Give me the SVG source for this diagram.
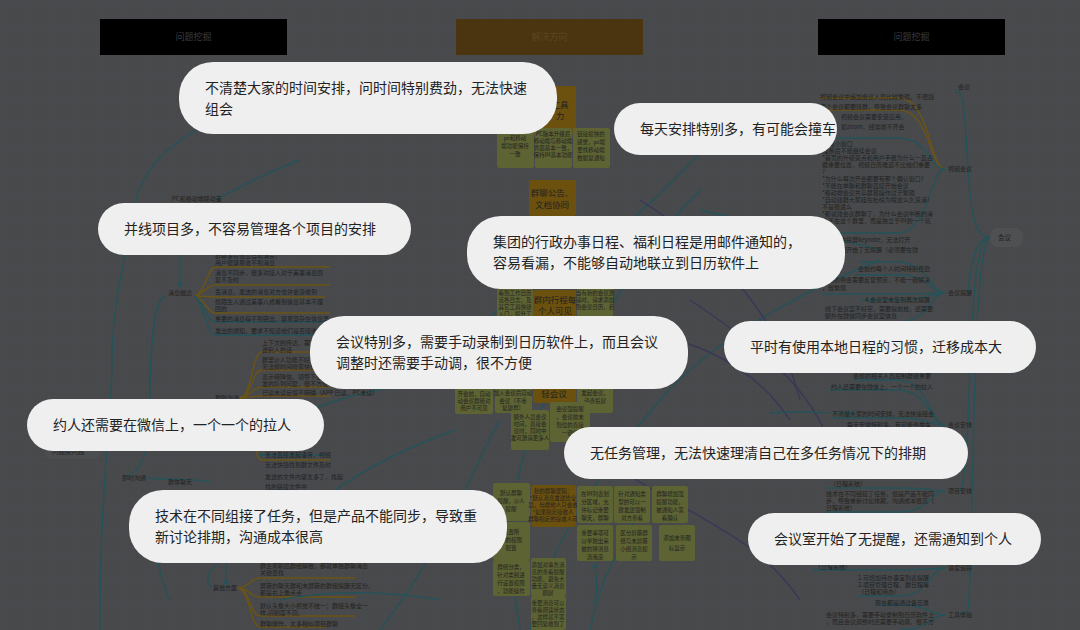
<svg xmlns="http://www.w3.org/2000/svg" width="1080" height="630" viewBox="0 0 1080 630">
<defs>
<pattern id="grid" width="6" height="6" patternUnits="userSpaceOnUse"><path d="M6 0H0V6" fill="none" stroke="#4b4d4f" stroke-width="0.6"/></pattern>
<marker id="ah" viewBox="0 0 10 10" refX="5" refY="5" markerWidth="4" markerHeight="4" orient="auto"><path d="M0 0L10 5L0 10z" fill="#24535a"/></marker>
<style>
.bg{fill:#47494b}
.t{font-family:"Noto Sans CJK SC","Noto Sans",sans-serif;font-size:6px;fill:#222}
.tl{font-family:"Noto Sans CJK SC","Noto Sans",sans-serif;font-size:6.5px;fill:#222}
.hd{font-family:"Noto Sans CJK SC",sans-serif;font-size:9px;text-anchor:middle}
.bt{font-family:"Noto Sans CJK SC","Noto Sans",sans-serif;font-size:14px;fill:#222}
.bub{fill:#efefef}
.c{fill:none;stroke:#24535a;stroke-width:1.4}
.g{fill:none;stroke:#6b5414;stroke-width:1.4}
.p{fill:none;stroke:#3b3757;stroke-width:1.4}
.ol{fill:#5d6332}
.or{fill:#6c500e}
.nt{font-family:"Noto Sans CJK SC",sans-serif;font-size:5.5px;fill:#222;text-anchor:middle}
.nb{font-family:"Noto Sans CJK SC",sans-serif;font-size:8.5px;fill:#222;text-anchor:middle}
</style>
</defs>
<rect class="bg" width="1080" height="630"/>
<rect fill="url(#grid)" width="1080" height="630"/>

<g id="headers">
<g id="h1"><rect x="100" y="19" width="187" height="36" fill="#000"/><text class="hd" x="193.5" y="40" fill="#3c3c3c">问题挖掘</text></g>
<g id="h2"><rect x="456" y="19" width="187" height="36" fill="#4a3510"/><text class="hd" x="549.5" y="40" fill="#5a4520">解决方向</text></g>
<g id="h3"><rect x="818" y="19" width="187" height="36" fill="#000"/><text class="hd" x="911.5" y="40" fill="#3c3c3c">问题挖掘</text></g>
</g>

<g id="connectors">
<path class="c" d="M200 128C160 150 140 175 135 205S112 300 112 360 100 480 100 630"/>
<path class="c" d="M300 160C260 175 235 190 215 200"/>
<path class="c" d="M180 255V286" marker-end="url(#ah)"/>
<path class="c" d="M165 296C155 300 150 340 150 400S140 470 125 478"/>
<path class="c" d="M145 478C170 480 190 478 210 482"/>
<path class="c" d="M170 600C150 560 158 520 160 490"/>
<path class="g" d="M195 296C205 292 208 268 215 267H330"/>
<path class="g" d="M195 296C205 292 208 285 215 285H330"/>
<path class="g" d="M195 296C205 296 208 297 215 297H325"/>
<path class="g" d="M195 296C205 300 208 313 215 313H330"/>
<path class="c" d="M195 296C205 305 208 322 215 322H325"/>
<path class="c" d="M195 296C205 310 208 335 215 335H325"/>
<path class="g" d="M240 398C252 396 252 352 262 352H330"/>
<path class="g" d="M240 398C252 396 252 370 262 370H330"/>
<path class="g" d="M240 398C252 396 252 387 262 387H330"/>
<path class="g" d="M240 398C252 398 252 396 262 396H330"/>
<path class="g" d="M240 398C252 400 252 460 262 460H330"/>
<path class="c" d="M262 455H325" marker-start="url(#ah)"/>
<path class="g" d="M237 588C250 588 250 578 260 578H355"/>
<path class="g" d="M237 588C250 588 250 597 260 597H355"/>
<path class="g" d="M237 588C250 588 250 616 260 616H355"/>
<path class="g" d="M237 588C250 588 250 627 260 627H325"/>
<path class="c" d="M213 588C205 585 205 570 222 560" />
<path class="c" d="M226 555V584" marker-end="url(#ah)"/>
<path class="c" d="M520 630C500 520 520 430 560 380S640 250 700 190"/>
<path class="c" d="M530 630C540 560 600 470 660 400S830 280 880 260"/>
<path class="c" d="M420 380C470 330 520 290 560 270S660 200 720 130"/>
<path class="c" d="M380 630C450 540 480 450 500 420"/>
<path class="c" d="M590 630C600 580 620 540 650 500"/>
<path class="c" d="M593 605C600 590 595 575 595 565" marker-end="url(#ah)"/>
<path class="p" d="M620 470C700 520 760 540 800 600"/>
<path class="p" d="M640 200C720 250 780 320 800 400"/>
<path class="p" d="M690 300C780 360 820 400 840 470"/>
<path class="p" d="M600 330C680 330 750 360 790 420"/>
<path class="c" d="M310 410C360 390 420 380 470 380"/>
<path class="c" d="M455 430C400 450 340 480 300 520"/>
<path class="c" d="M440 600C380 590 330 590 280 600"/>
<path class="c" d="M700 210C780 230 850 240 880 250"/>
<path class="c" d="M850 413H833" marker-start="url(#ah)"/>
<path class="c" d="M770 413C800 410 815 413 830 413"/>
<path class="c" d="M990 237C975 237 972 220 968 170 965 120 965 90 955 90"/>
<path class="c" d="M990 237C975 240 972 260 968 293"/>
<path class="c" d="M990 237C975 240 972 300 968 425 965 460 965 480 960 491"/>
<path class="c" d="M990 237C978 245 975 350 972 500S968 600 960 615"/>
<path class="g" d="M945 169C930 169 930 100 900 98H820"/>
<path class="g" d="M945 169C930 169 930 112 900 110H820"/>
<path class="c" d="M945 169C930 169 930 140 900 138H820"/>
<path class="c" d="M945 169C930 169 930 230 900 233H820"/>
<path class="c" d="M945 293C930 293 930 265 900 262H860"/>
<path class="c" d="M945 293C930 293 930 275 900 275H855"/>
<path class="c" d="M945 293C930 293 928 294 900 294H822"/>
<path class="c" d="M945 293C930 293 928 300 900 300H868" />
<path class="c" d="M945 293C930 293 930 320 900 322H825"/>
<path class="c" d="M945 425C930 425 930 382 900 380H853"/>
<path class="c" d="M945 425C930 425 930 392 900 390H830"/>
<path class="c" d="M945 425C930 425 930 418 900 418H832"/>
<path class="c" d="M945 491C930 491 930 488 900 488H828"/>
<path class="c" d="M945 491C930 491 930 512 900 512H826"/>
<path class="c" d="M945 568C930 568 930 570 900 570H812"/>
<path class="c" d="M945 568C930 568 930 596 900 596H858"/>
<path class="c" d="M945 615C930 615 930 605 900 605H875"/>
<path class="c" d="M945 615C930 615 930 630 900 630"/>
<path class="c" d="M870 300H860" marker-start="url(#ah)"/>
</g>

<g id="left-tree">
<text class="t" x="172" y="201">PC和移动端联动差</text>
<text class="t" x="168" y="295">消息触达</text>
<text class="t" x="215" y="258">群聊多对话息自动消失，</text>
<text class="t" x="215" y="265">用户很容易收不到消息</text>
<text class="t" x="215" y="275">消息不同步，很多对接人对于美事消息回</text>
<text class="t" x="215" y="282">复不及时</text>
<text class="t" x="215" y="294">丢消息，发送的消息对方也许会没收到</text>
<text class="t" x="215" y="304">找陌生人通过美事八成看到信息基本不理</text>
<text class="t" x="215" y="311">回的</text>
<text class="t" x="215" y="321">重要的消息得不到突出，容易混杂在信息里</text>
<text class="t" x="215" y="333">发出的通知，要求不知道他们是否接收并回</text>
<text class="t" x="262" y="345">上下文的传达，需要再</text>
<text class="t" x="262" y="352">送别人的话</text>
<text class="t" x="262" y="362">群里@人功能不好用，</text>
<text class="t" x="262" y="369">无法按时间搜索快速</text>
<text class="t" x="262" y="379">表示暗降信，领导下达通知</text>
<text class="t" x="262" y="386">发的队列问复，很不方便</text>
<text class="t" x="262" y="395">已读未读反馈不明确（APP 已读，PC未读）</text>
<text class="t" x="215" y="400">群聊沟通</text>
<text class="t" x="265" y="457">无法直接发起语音，视频</text>
<text class="t" x="265" y="467">无法快捷找到群文件及时</text>
<text class="t" x="265" y="479">发送的文件内容太多了，找起</text>
<text class="t" x="265" y="489">找的链接文件中</text>
<rect x="45" y="443" width="55" height="16" rx="5" fill="#4c4d4f"/>
<text class="tl" x="52" y="454">问题类问题</text>
<text class="t" x="122" y="480">即时沟通</text>
<text class="t" x="168" y="484">群体聊天</text>
<text class="t" x="213" y="590">其他方面</text>
<text class="t" x="260" y="568">群主离职后群组解散，那就单独群聊消息</text>
<text class="t" x="260" y="575">关键查找</text>
<text class="t" x="260" y="588">屏蔽的聊天群和未屏蔽的群组提醒无区分，</text>
<text class="t" x="260" y="595">都是右上角点点</text>
<text class="t" x="260" y="608">默认头像大小视觉不统一；群组头像全一</text>
<text class="t" x="260" y="615">样,识别度不高;</text>
<text class="t" x="260" y="626">群聊爆炸，太多相似项目群聊</text>
</g>

<g id="notes">
<rect class="or" x="529" y="86" width="47" height="48" rx="2"/>
<text class="nb" x="560" y="108">工具</text><text class="nb" x="560" y="119">力</text>
<rect class="ol" x="497" y="128" width="37" height="40" rx="2"/>
<text class="nt" x="515" y="140">pc和移动</text><text class="nt" x="515" y="148">端功能保持</text><text class="nt" x="515" y="156">一致</text>
<rect class="ol" x="535" y="128" width="37" height="40" rx="2"/>
<text class="nt" x="553" y="136">PC版本升级后</text><text class="nt" x="553" y="143">移动端与移动端</text><text class="nt" x="553" y="150">界面基本一致，</text><text class="nt" x="553" y="157">保持IM基本功能</text>
<rect class="ol" x="573" y="128" width="37" height="40" rx="2"/>
<text class="nt" x="591" y="136">链接提快的</text><text class="nt" x="591" y="144">感觉，pc端</text><text class="nt" x="591" y="152">要找移动端</text><text class="nt" x="591" y="160">数据复通知</text>
<rect class="or" x="529" y="180" width="47" height="36" rx="2"/>
<text class="nb" x="552" y="196">群聊公告、</text><text class="nb" x="552" y="208">文档协同</text>
<rect class="ol" x="497" y="288" width="36" height="30" rx="2"/>
<text class="nt" x="515" y="295">看到工作日历</text><text class="nt" x="515" y="302">该各日志，及</text><text class="nt" x="515" y="309">其它工具快捷</text><text class="nt" x="515" y="316">入口，提升工</text>
<rect class="or" x="533" y="290" width="43" height="28" rx="2"/>
<text class="nb" x="555" y="303">群内行程每</text><text class="nb" x="555" y="314">个人可见</text>
<rect class="ol" x="577" y="288" width="36" height="30" rx="2"/>
<text class="nt" x="595" y="295">当有新的会议邀</text><text class="nt" x="595" y="302">请时，请求添加</text><text class="nt" x="595" y="309">到会议日历，若</text>
<rect class="ol" x="455" y="388" width="38" height="26" rx="2"/>
<text class="nt" x="474" y="396">开会前，自动</text><text class="nt" x="474" y="403">动会议群组对</text><text class="nt" x="474" y="410">用户不可见</text>
<rect class="ol" x="495" y="385" width="37" height="28" rx="2"/>
<text class="nt" x="513" y="395">加入会议后自动</text><text class="nt" x="513" y="403">会议（不重</text><text class="nt" x="513" y="410">复建群）</text>
<rect class="or" x="533" y="385" width="43" height="18" rx="2"/>
<text class="nb" x="554" y="397">轻会议</text>
<rect class="ol" x="577" y="385" width="36" height="28" rx="2"/>
<text class="nt" x="595" y="395">发起会议，</text><text class="nt" x="595" y="403">请查投屏</text>
<rect class="ol" x="550" y="402" width="40" height="40" rx="2"/>
<text class="nt" x="570" y="411">会议强提醒</text><text class="nt" x="570" y="419">，会议前未</text><text class="nt" x="570" y="427">到位的直接</text><text class="nt" x="570" y="435">一键呼</text>
<rect class="ol" x="511" y="410" width="38" height="40" rx="2"/>
<text class="nt" x="530" y="419">额外人员会议</text><text class="nt" x="530" y="426">时间，直接会</text><text class="nt" x="530" y="433">议时，同时中</text><text class="nt" x="530" y="440">发可邀请更多人</text>
<rect class="ol" x="493" y="483" width="37" height="38" rx="2"/>
<text class="nt" x="511" y="495">默认群聊</text><text class="nt" x="511" y="503">提醒，@人</text><text class="nt" x="511" y="511">提醒</text>
<rect class="or" x="531" y="485" width="45" height="42" rx="3"/>
<text class="nt" x="553" y="493">新的群聊逻辑：</text><text class="nt" x="553" y="500">*默认消息发送给全</text><text class="nt" x="553" y="507">员，但群他人只会收</text><text class="nt" x="553" y="514">*如果指定接收人</text><text class="nt" x="553" y="521">群聊指定的接收人可</text>
<rect class="ol" x="577" y="486" width="36" height="37" rx="2"/>
<text class="nt" x="595" y="496">在IM列表划</text><text class="nt" x="595" y="504">分区域，允</text><text class="nt" x="595" y="512">许标记重要</text><text class="nt" x="595" y="520">聊天，群聊</text>
<rect class="ol" x="614" y="486" width="36" height="37" rx="2"/>
<text class="nt" x="632" y="496">针对通知类</text><text class="nt" x="632" y="504">型的可以一</text><text class="nt" x="632" y="512">键发送强制</text><text class="nt" x="632" y="520">对方查看</text>
<rect class="ol" x="652" y="486" width="36" height="37" rx="2"/>
<text class="nt" x="670" y="496">群聊增加强</text><text class="nt" x="670" y="504">提醒功能，</text><text class="nt" x="670" y="512">被通知人需</text><text class="nt" x="670" y="520">看确认</text>
<rect class="ol" x="493" y="522" width="37" height="38" rx="2"/>
<text class="nt" x="511" y="534">设置所</text><text class="nt" x="511" y="542">人的权限</text><text class="nt" x="511" y="550">配置</text>
<rect class="ol" x="577" y="525" width="36" height="36" rx="2"/>
<text class="nt" x="595" y="535">重要事项可</text><text class="nt" x="595" y="543">以单独出来</text><text class="nt" x="595" y="551">被的弹消息</text><text class="nt" x="595" y="559">流淹没</text>
<rect class="ol" x="616" y="525" width="36" height="36" rx="2"/>
<text class="nt" x="634" y="535">区分屏蔽群</text><text class="nt" x="634" y="543">组与未屏蔽</text><text class="nt" x="634" y="551">小组消息提</text><text class="nt" x="634" y="559">示</text>
<rect class="ol" x="659" y="525" width="36" height="36" rx="2"/>
<text class="nt" x="677" y="540">添加未查图</text><text class="nt" x="677" y="550">标显示</text>
<rect class="ol" x="493" y="560" width="37" height="36" rx="2"/>
<text class="nt" x="511" y="569">群组分类，</text><text class="nt" x="511" y="577">针对类别进</text><text class="nt" x="511" y="585">行设置权限</text><text class="nt" x="511" y="593">，功能操作</text>
<rect class="ol" x="531" y="558" width="35" height="38" rx="2"/>
<text class="nt" x="548" y="567">添加对事务消</text><text class="nt" x="548" y="574">息的查看提醒</text><text class="nt" x="548" y="581">功能，避免大</text><text class="nt" x="548" y="588">量无意义消息</text><text class="nt" x="548" y="595">刷屏</text>
<rect class="ol" x="531" y="596" width="35" height="34" rx="2"/>
<text class="nt" x="548" y="605">重要消息可以</text><text class="nt" x="548" y="612">查看阅读状态</text><text class="nt" x="548" y="619">，这样就不需</text><text class="nt" x="548" y="626">要回复收到了</text>
</g>

<g id="right-tree">
<rect x="990" y="228" width="33" height="19" rx="8" fill="#4e5052"/>
<text class="tl" x="998" y="240">会议</text>
<text class="t" x="958" y="89">会议</text>
<text class="t" x="948" y="171">视频会议</text>
<text class="t" x="948" y="295">会议提醒</text>
<text class="t" x="948" y="427">会议安排</text>
<text class="t" x="948" y="493">项目安排</text>
<text class="t" x="948" y="570">进度追踪</text>
<text class="t" x="948" y="617">工具体验</text>
<text class="t" x="820" y="99">视频会议中追加会议人员比较繁琐，不便捷</text>
<text class="t" x="820" y="109">每个会议都要建群，导致会议群聊太多</text>
<text class="t" x="841" y="119">视频会议需要安装应用，</text>
<text class="t" x="841" y="129">如zoom，经常收不开会</text>
<text class="t" x="820" y="146">*视频小窗口</text>
<text class="t" x="820" y="153">*挂断后不能继续会议</text>
<text class="t" x="822" y="160">*首页的升级亮点和用户手册为什么一直占</text>
<text class="t" x="822" y="167">据重要位置，视频日历难道不比他们重要</text>
<text class="t" x="822" y="174">?</text>
<text class="t" x="822" y="181">*为什么每次开会都要有那个确认窗口?</text>
<text class="t" x="822" y="188">*不能在单聊和群聊直接开始会议</text>
<text class="t" x="822" y="195">*移动端会议共享屏幕操作过于繁琐</text>
<text class="t" x="822" y="202">*自动建群大家挂在杜榜为啥这么久没消?</text>
<text class="t" x="822" y="209">不是很适么</text>
<text class="t" x="822" y="216">*都说建会议群聊了，为什么会议中断的消</text>
<text class="t" x="822" y="223">息不在这个群里，而是独立于IM的一个玩</text>
<text class="t" x="822" y="242">会议单独投屏keynote，无法打开</text>
<text class="t" x="822" y="252">会议时间开始了无提醒（必须要在微</text>
<text class="t" x="822" y="259">信通知）</text>
<text class="t" x="858" y="271">会前约每个人时间特别费劲</text>
<text class="t" x="822" y="282">固定的例会需要反复预定，不能一键解决</text>
<text class="t" x="822" y="290">，较繁琐</text>
<text class="t" x="865" y="302">4.会议室未签到再次提醒</text>
<text class="t" x="825" y="311">线下会议室不好定，需要提前抢，还需要</text>
<text class="t" x="825" y="318">额外在微信同步会议室信息</text>
<text class="t" x="853" y="378">会前的相关人员控制群组重要</text>
<text class="t" x="831" y="389">约人还需要在微信上，一个一个的拉人</text>
<text class="t" x="832" y="416">不清楚大家的时间安排，无法快速组会</text>
<text class="t" x="847" y="427">每天安排特别多，有可能会撞车</text>
<text class="t" x="830" y="486">（日程系统）</text>
<text class="t" x="826" y="496">技术在不同组接了任务，但是产品不能同</text>
<text class="t" x="826" y="503">步，导致重新讨论排期，沟通成本很高（</text>
<text class="t" x="826" y="510">日程系统）</text>
<text class="t" x="815" y="569">（日程系统）</text>
<text class="t" x="858" y="580">1.可增加待办事宜列表提醒</text>
<text class="t" x="858" y="587">2.项目管理日程，群日程等</text>
<text class="t" x="858" y="594">（日程和待办）</text>
<text class="t" x="875" y="605">现在都是通过备忘录</text>
<text class="t" x="826" y="617">会议特别多，需要手动录制到日历软件上</text>
<text class="t" x="826" y="624">，而且会议调整时还需要手动调，很不方</text>
</g>

<g id="bubble1"><rect class="bub" x="179" y="62" width="378" height="72" rx="34"/><text class="bt" x="205" y="93">不清楚大家的时间安排，问时间特别费劲，无法快速</text><text class="bt" x="205" y="114">组会</text></g>
<g id="bubble2"><rect class="bub" x="614" y="103" width="223" height="52" rx="26"/><text class="bt" x="640" y="134">每天安排特别多，有可能会撞车</text></g>
<g id="bubble3"><rect class="bub" x="98" y="203" width="313" height="52" rx="26"/><text class="bt" x="124" y="234">并线项目多，不容易管理各个项目的安排</text></g>
<g id="bubble4"><rect class="bub" x="467" y="216" width="378" height="73" rx="34"/><text class="bt" x="493" y="247">集团的行政办事日程、福利日程是用邮件通知的，</text><text class="bt" x="493" y="268">容易看漏，不能够自动地联立到日历软件上</text></g>
<g id="bubble5"><rect class="bub" x="310" y="316" width="378" height="73" rx="34"/><text class="bt" x="336" y="347">会议特别多，需要手动录制到日历软件上，而且会议</text><text class="bt" x="336" y="368">调整时还需要手动调，很不方便</text></g>
<g id="bubble6"><rect class="bub" x="724" y="321" width="312" height="52" rx="26"/><text class="bt" x="750" y="352">平时有使用本地日程的习惯，迁移成本大</text></g>
<g id="bubble7"><rect class="bub" x="27" y="399" width="297" height="52" rx="26"/><text class="bt" x="53" y="430">约人还需要在微信上，一个一个的拉人</text></g>
<g id="bubble8"><rect class="bub" x="564" y="427" width="404" height="52" rx="26"/><text class="bt" x="590" y="458">无任务管理，无法快速理清自己在多任务情况下的排期</text></g>
<g id="bubble9"><rect class="bub" x="129" y="490" width="378" height="73" rx="34"/><text class="bt" x="155" y="521">技术在不同组接了任务，但是产品不能同步，导致重</text><text class="bt" x="155" y="542">新讨论排期，沟通成本很高</text></g>
<g id="bubble10"><rect class="bub" x="748" y="513" width="293" height="52" rx="26"/><text class="bt" x="774" y="544">会议室开始了无提醒，还需通知到个人</text></g>
</svg>
